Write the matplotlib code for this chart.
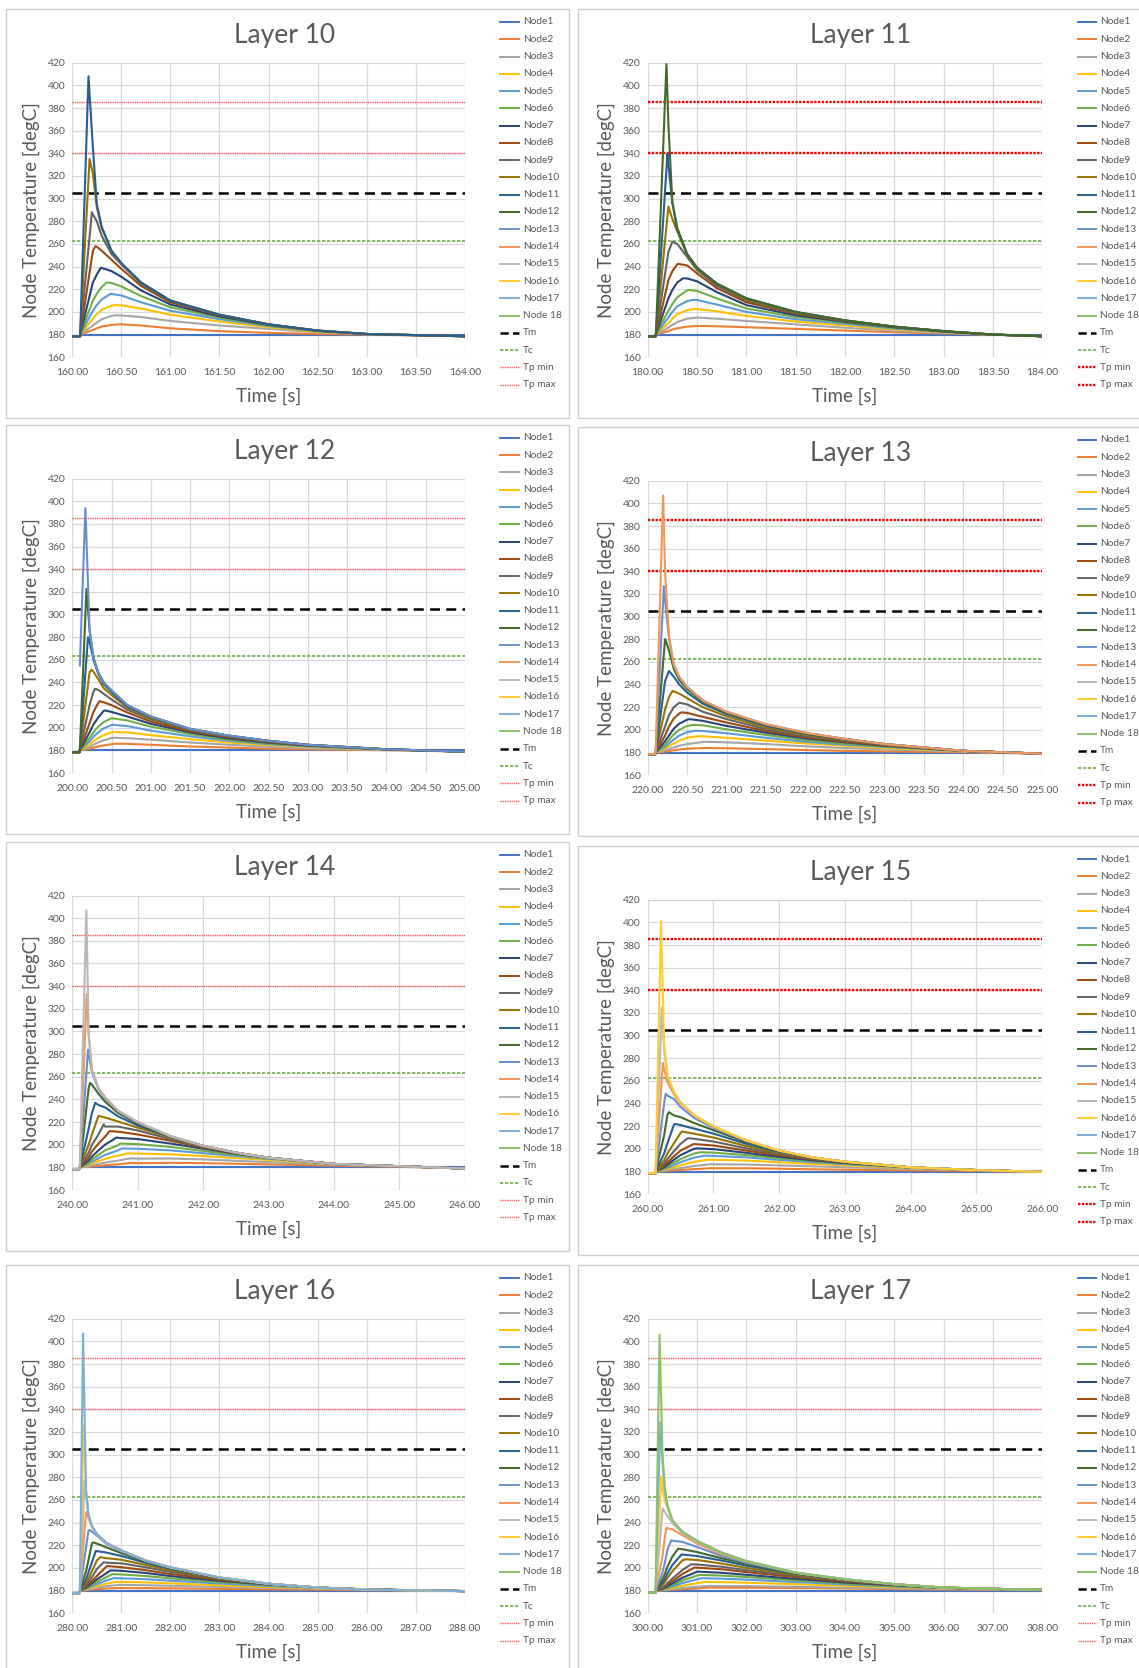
import matplotlib
matplotlib.use("Agg")
import matplotlib.pyplot as plt
from matplotlib.lines import Line2D
from matplotlib.patches import Rectangle
import numpy as np

plt.rcParams['font.family'] = ['Lato', 'DejaVu Sans']

W, H = 1139, 1668

# ---- data ------------------------------------------------------------------
layers = [10, 11, 12, 13, 14, 15, 16, 17]
t_start = [160, 180, 200, 220, 240, 260, 280, 300]
t_span = [4, 4, 5, 5, 6, 6, 8, 8]
x_step = [0.5, 0.5, 0.5, 0.5, 1, 1, 1, 1]
rise_offset = [0.08, 0.083, 0.096, 0.10, 0.115, 0.12, 0.154, 0.16]
preheat_temp = [178.5, 178.5, 178.5, 178.6, 178.5, 178.5, 177.8, 178.0]
top_node_start = [None, None, 255.0, None, None, None, None, None]

T_m, T_c, Tp_min, Tp_max = 305, 263, 340, 385

node_labels = ['Node%d' % i for i in range(1, 18)] + ['Node 18']
node_colors = ['#4472C4', '#ED7D31', '#A5A5A5', '#FFC000', '#5B9BD5', '#70AD47',
               '#264478', '#9E480E', '#636363', '#997300', '#255E91', '#43682B',
               '#698ED0', '#F1975A', '#B7B7B7', '#FFCD33', '#7CAFDD', '#8CC168']

# peak (offset from layer start [s], temperature [degC]) per node
l10_peak_t = [0.5, 0.48, 0.44, 0.44, 0.39, 0.35, 0.29, 0.235, 0.20, 0.176, 0.165]
l10_peak_T = [180, 189, 197, 206, 216, 226, 239, 258, 288, 335, 408]
l11_peak_t = [0.5, 0.53, 0.51, 0.48, 0.45, 0.42, 0.36, 0.31, 0.25, 0.21, 0.20, 0.19]
l11_peak_T = [180, 187.6, 195, 202.6, 210.6, 219.4, 229.7, 242.4, 262, 293, 339.7, 418.8]
l12_peak_t = [0.5, 0.55, 0.52, 0.54, 0.52, 0.50, 0.42, 0.35, 0.29, 0.24, 0.20, 0.18, 0.167]
l12_peak_T = [180, 186, 191.2, 196.2, 202.6, 208.5, 215.3, 223.5, 234.4, 251.2, 280, 322.6, 394]
l13_peak_t = [0.5, 0.72, 0.72, 0.65, 0.6, 0.58, 0.53, 0.43, 0.40, 0.315, 0.27, 0.224, 0.205, 0.196]
l13_peak_T = [180, 184, 189.5, 194.5, 199.2, 204.5, 209.5, 215.5, 224, 234.5, 252, 280, 327, 407]
l14_peak_t = [0.5, 0.9, 0.9, 0.84, 0.76, 0.73, 0.68, 0.57, 0.48, 0.40, 0.35, 0.27, 0.24, 0.22, 0.214]
l14_peak_T = [180, 184, 188, 192.3, 196.7, 201, 206.4, 212, 218, 225.5, 237, 254.5, 284, 333, 407]
l15_peak_t = [0.5, 0.97, 0.97, 0.92, 0.86, 0.8, 0.75, 0.7, 0.61, 0.52, 0.42, 0.323, 0.274, 0.23,
              0.214, 0.203]
l15_peak_T = [180, 183, 186.5, 190.5, 194, 197, 200.5, 204.3, 209.4, 215.3, 222, 232.4, 248.7, 276,
              324.6, 401.4]
l16_peak_t = [0.5, 0.95, 0.95, 0.9, 0.85, 0.82, 0.78, 0.72, 0.64, 0.57, 0.48, 0.42, 0.35, 0.29,
              0.25, 0.23, 0.22]
l16_peak_T = [180, 182.2, 185, 187.7, 191, 194.5, 197.8, 201.6, 205, 209.5, 215, 222.5, 233.5,
              249.5, 277.5, 326, 407]
l17_peak_t = [0.5, 1.24, 1.24, 1.17, 1.1, 1.06, 1.02, 0.95, 0.88, 0.77, 0.69, 0.62, 0.475, 0.38,
              0.307, 0.278, 0.256, 0.241]
l17_peak_T = [180, 182.6, 184.1, 187.6, 190.9, 193.8, 196.7, 200.3, 203.2, 207.6, 212, 217, 224.3,
              235.5, 252.3, 280.5, 328.6, 406]

# sampled temperatures on a time grid (offset from layer start [s]), one row per node
l10_grid = [0.21, 0.25, 0.3, 0.4, 0.5, 0.7, 1.0, 1.5, 2.0, 2.5, 3.0, 3.5, 4.0]
l10_temp = [
    [180, 180, 180, 180, 180, 180, 180, 180, 180, 180, 180, 180, 180],
    [184, 185.5, 187, 188.5, 189, 188, 185.5, 183, 181.5, 180.5, 180, 179.2, 178.5],
    [188, 190.5, 193.5, 196.5, 196.8, 195.5, 192, 188, 185, 182, 180.3, 179.3, 178.5],
    [194, 198, 202, 205.5, 205.8, 203, 197.5, 191.5, 186.5, 182.5, 180.4, 179.3, 178.5],
    [201, 206, 211, 215.8, 214.5, 208.5, 201, 193.5, 187.5, 183, 180.5, 179.4, 178.5],
    [210, 216, 222, 225.5, 222.5, 214, 204, 195, 188, 183.2, 180.5, 179.4, 178.5],
    [226, 233, 238.8, 236, 231, 219, 206.5, 196, 188.5, 183.3, 180.5, 179.5, 178.5],
    [254, 257.5, 254, 246, 238, 223, 208.5, 197, 189, 183.5, 180.5, 179.5, 178.5],
    [286, 280, 267, 251, 242, 225, 209.5, 197.5, 189, 183.5, 180.5, 179.5, 178.5],
    [322, 292, 274, 253.5, 243, 226, 210, 197.5, 189, 183.5, 180.5, 179.5, 178.5],
    [345, 295, 275, 254, 243, 226, 210, 197.5, 189, 183.5, 180.5, 179.5, 178.5],
]
l11_grid = [0.21, 0.25, 0.3, 0.4, 0.5, 0.7, 1.0, 1.5, 2.0, 2.5, 3.0, 3.5, 4.0]
l11_temp = [
    [180, 180, 180, 180, 180, 180, 180, 180, 180, 180, 180, 180, 180],
    [183, 184.5, 185.5, 187, 187.5, 187.3, 186.5, 185, 183.5, 182, 181, 179.8, 178.5],
    [186, 188.5, 191, 194, 195, 194, 192, 189, 186, 183.5, 181.5, 179.9, 178.5],
    [190, 194, 198, 201.5, 202.5, 200.5, 196.5, 191.5, 188, 184.5, 182, 180, 178.5],
    [195, 200, 205, 209.5, 210.5, 206.5, 200, 193.5, 189.5, 185.3, 182.3, 180, 178.5],
    [201, 207, 213, 219, 218.5, 212, 203, 195.5, 190.5, 186, 182.5, 180, 178.5],
    [212, 219.5, 226, 229.5, 227, 217.5, 206, 197, 191.3, 186.4, 182.7, 180, 178.5],
    [228, 236, 242, 241, 234, 221, 208.5, 198.3, 191.8, 186.7, 182.8, 180, 178.5],
    [253, 262, 260, 248.5, 237, 223, 210, 199, 192.2, 186.9, 183, 180, 178.5],
    [293, 282, 271, 250.5, 238.5, 224.5, 211, 199.5, 192.5, 187, 183, 180, 178.5],
    [330, 296, 273, 251, 239, 225, 212, 200, 192.5, 187, 183, 180, 178.5],
    [365, 297, 274, 251, 239, 225, 212, 200, 192.5, 187, 183, 180, 178.5],
]
l12_grid = [0.22, 0.27, 0.33, 0.4, 0.5, 0.7, 1.0, 1.5, 2.0, 2.5, 3.0, 4.0, 5.0]
l12_temp = [
    [180, 180, 180, 180, 180, 180, 180, 180, 180, 180, 180, 180, 180],
    [181.5, 182.5, 183.5, 184.5, 185.5, 185.8, 185, 183.5, 182.5, 181.5, 181, 180.2, 179],
    [183, 185, 187, 189, 191, 190.8, 189.5, 187, 185, 183.3, 182, 180.5, 179],
    [185, 188, 191, 193.5, 196, 196, 193.5, 190, 187, 184.8, 183, 180.7, 179],
    [188, 192, 196, 199.5, 202.5, 201.5, 197.5, 192.5, 188.5, 185.5, 183.5, 180.8, 179],
    [191, 196, 201, 205, 208.5, 206.5, 201, 194.5, 189.5, 186, 184, 180.9, 179],
    [196, 203, 209, 215, 214, 210, 203.5, 196, 190.5, 186.8, 184.3, 181, 179],
    [204, 214, 222, 222.5, 220, 213.5, 205.5, 197, 191.5, 187.3, 184.5, 181, 179],
    [220, 232, 233.5, 230, 225, 216, 207.5, 198, 192, 187.8, 184.8, 181, 179],
    [249, 249.5, 243, 235, 229, 218, 208.5, 198.5, 192.5, 188.2, 185, 181, 179],
    [276, 260, 248, 238.5, 231.5, 219, 209.5, 199, 193, 188.5, 185, 181, 179],
    [286, 262, 249, 240, 233, 220, 210, 199, 193, 188.5, 185, 181, 179],
    [286, 262, 249, 240, 233, 220, 210, 199, 193, 188.5, 185, 181, 179],
]
l13_grid = [0.22, 0.27, 0.33, 0.4, 0.5, 0.7, 1.0, 1.5, 2.0, 2.5, 3.0, 4.0, 5.0]
l13_temp = [
    [180, 180, 180, 180, 180, 180, 180, 180, 180, 180, 180, 180, 180],
    [180.8, 181.3, 182, 182.7, 183.3, 184, 183.8, 183, 182.2, 181.5, 181, 180.3, 179],
    [182, 183, 184.5, 186, 187.5, 189.3, 189, 187.5, 185.5, 184, 182.8, 180.8, 179],
    [183.5, 185.5, 188, 190.5, 193, 194.3, 193, 190.5, 188, 186, 184, 181.2, 179],
    [185, 188, 191.5, 195, 198, 199, 197, 193, 189.5, 187, 185, 181.4, 179],
    [187, 191, 196, 200, 203.5, 204, 200.5, 195.5, 191, 188, 185.5, 181.5, 179],
    [190, 195, 201, 205.5, 209, 208, 203.5, 197.5, 192.5, 189, 186, 181.5, 179],
    [195, 203, 210, 214.5, 215, 211.5, 206.5, 199, 193.5, 189.5, 186.5, 181.5, 179],
    [203, 213, 220, 224, 222.5, 216, 209.5, 200.5, 194.5, 190.5, 187, 181.5, 179],
    [218, 229, 234, 232, 228, 220, 212, 202, 195.5, 191, 187.3, 181.5, 179],
    [243, 252, 247, 240, 233, 223, 214, 203.5, 196.5, 191.5, 187.5, 181.5, 179],
    [280, 270, 254, 244, 236, 225, 215, 204.5, 197, 192, 187.5, 181.5, 179],
    [315, 281, 257, 246, 237.5, 226, 216, 205, 197.5, 192, 187.5, 181.5, 179],
    [340, 283, 258, 247, 238, 226, 216, 205, 197.5, 192, 187.5, 181.5, 179],
]
l14_grid = [0.25, 0.3, 0.4, 0.5, 0.7, 1.0, 1.5, 2.0, 2.5, 3.0, 4.0, 5.0, 6.0]
l14_temp = [
    [180, 180, 180, 180, 180, 180, 180, 180, 180, 180, 180, 180, 180],
    [180.5, 180.8, 181.3, 181.8, 182.7, 183.6, 184, 183.7, 183.2, 182.6, 181.5, 180.5, 179],
    [181, 181.8, 183, 184.2, 186, 187.7, 187.8, 187, 185.8, 184.6, 182.3, 180.8, 179],
    [182, 183.5, 185.5, 187.5, 190.3, 192.2, 191.5, 190, 188.2, 186.5, 182.8, 181, 179],
    [183, 185, 188, 191, 195, 196.4, 195, 192.5, 190, 187.5, 183, 181, 179],
    [184, 187, 191, 195, 199.5, 200.5, 198, 194.5, 191, 188, 183, 181, 179],
    [186, 189.5, 195, 200, 206, 205, 201, 196.5, 192, 188.5, 183, 181, 179],
    [189, 194, 201, 207, 211.5, 209, 203.5, 197.5, 192.5, 188.5, 183, 181, 179],
    [193, 200, 209, 216, 216, 212.5, 205, 198, 192.8, 188.5, 183, 181, 179],
    [200, 209, 225.5, 224, 220.5, 215, 206.5, 198.5, 193, 188.5, 183, 181, 179],
    [214, 228, 235, 233, 225, 217, 207, 199, 193, 188.5, 183, 181, 179],
    [250, 253, 245, 238, 228, 218.5, 207.5, 199, 193, 188.5, 183, 181, 179],
    [280, 264, 249, 241, 229.5, 219.5, 207.5, 199, 193, 188.5, 183, 181, 179],
    [297, 266, 250, 242, 230, 220, 207.5, 199, 193, 188.5, 183, 181, 179],
    [298, 266, 250, 242, 230, 220, 207.5, 199, 193, 188.5, 183, 181, 179],
]
l15_grid = [0.25, 0.3, 0.4, 0.5, 0.7, 1.0, 1.5, 2.0, 2.5, 3.0, 4.0, 5.0, 6.0]
l15_temp = [
    [180, 180, 180, 180, 180, 180, 180, 180, 180, 180, 180, 180, 180],
    [180.4, 180.6, 181, 181.4, 182.1, 182.9, 182.9, 182.5, 182, 181.6, 181, 180.5, 179.7],
    [180.8, 181.3, 182.2, 183.1, 184.8, 186.4, 186.2, 185.4, 184.6, 183.8, 182.3, 181, 179.7],
    [181.3, 182.2, 183.8, 185.5, 188.5, 190.4, 189.7, 188.2, 186.8, 185.5, 183, 181.2, 179.7],
    [182, 183.3, 185.8, 188.3, 192.2, 193.8, 192.5, 190.3, 188.3, 186.5, 183.3, 181.3, 179.7],
    [182.8, 184.5, 188, 191, 195.8, 196.7, 194.5, 191.8, 189.3, 187.2, 183.5, 181.3, 179.7],
    [183.7, 186, 190.5, 194.5, 200, 199.8, 196.5, 193, 190, 187.6, 183.6, 181.3, 179.7],
    [185, 188, 193.5, 198.5, 204.3, 203, 198.5, 194.3, 190.7, 188, 183.7, 181.3, 179.7],
    [187, 191, 198, 204.5, 209, 206.5, 200.5, 195.5, 191.3, 188.3, 183.7, 181.3, 179.7],
    [190, 196, 205, 214, 213.5, 210, 202.5, 196.5, 191.8, 188.5, 183.7, 181.3, 179.7],
    [196, 205, 221.5, 221, 218, 213.5, 204.5, 197.3, 192.2, 188.6, 183.7, 181.3, 179.7],
    [212, 230, 229.5, 228, 223, 216.5, 206, 198, 192.5, 188.7, 183.7, 181.3, 179.7],
    [240, 247, 244, 237, 227.5, 218.5, 207, 198.5, 192.5, 188.7, 183.7, 181.3, 179.7],
    [270, 259, 248, 240, 229.5, 219.5, 207.5, 198.5, 192.5, 188.7, 183.7, 181.3, 179.7],
    [288, 264, 250, 241, 230, 220, 207.5, 198.5, 192.5, 188.7, 183.7, 181.3, 179.7],
    [292, 265, 250, 241, 230, 220, 207.5, 198.5, 192.5, 188.7, 183.7, 181.3, 179.7],
]
l16_grid = [0.28, 0.33, 0.4, 0.5, 0.7, 1.0, 1.5, 2.0, 3.0, 4.0, 5.0, 6.0, 8.0]
l16_temp = [
    [180, 180, 180, 180, 180, 180, 180, 180, 180, 180, 180, 180, 180],
    [180.3, 180.5, 180.8, 181.2, 181.8, 182.2, 182.1, 181.9, 181.5, 181.1, 180.7, 180.3, 179.5],
    [180.6, 181, 181.6, 182.4, 183.9, 185, 184.7, 184.2, 183.2, 182.3, 181.5, 180.8, 179.5],
    [181, 181.6, 182.5, 183.8, 186.2, 187.6, 187.2, 186.4, 184.7, 183.2, 182, 181, 179.5],
    [181.5, 182.3, 183.6, 185.5, 189, 190.8, 190, 188.7, 186.2, 184, 182.3, 181, 179.5],
    [182, 183.1, 184.8, 187.4, 192, 194.2, 192.8, 190.8, 187.5, 184.8, 182.6, 181, 179.5],
    [182.7, 184.2, 186.5, 189.8, 195.5, 197.4, 195.5, 192.8, 188.6, 185.3, 182.7, 181, 179.5],
    [183.5, 185.5, 188.5, 192.8, 201.4, 200.6, 198, 194.6, 189.5, 185.6, 182.7, 180.9, 179.5],
    [184.8, 187.5, 191.8, 199, 204.6, 204, 200.5, 196.5, 190.3, 185.8, 182.7, 180.9, 179.5],
    [186.7, 190.5, 197, 206.5, 208.5, 207.2, 202.6, 198, 190.8, 186, 182.7, 180.9, 179.5],
    [190, 196, 205, 214.8, 213.5, 210.5, 204.5, 199.2, 191.2, 186, 182.6, 180.8, 179.5],
    [197, 207, 221.5, 221.5, 218, 213, 205.5, 200, 191.4, 186, 182.6, 180.8, 179.5],
    [218, 233, 232, 228.5, 221, 214.5, 206.2, 200.4, 191.5, 186, 182.6, 180.8, 179.5],
    [249, 244, 236, 229.5, 221.7, 215.2, 206.5, 200.5, 191.5, 186, 182.6, 180.8, 179.5],
    [266, 247, 237, 230, 222, 215.5, 206.5, 200.5, 191.5, 186, 182.6, 180.8, 179.5],
    [268, 247, 237, 230, 222, 215.5, 206.5, 200.5, 191.5, 186, 182.6, 180.8, 179.5],
    [268, 247, 237, 230, 222, 215.5, 206.5, 200.5, 191.5, 186, 182.6, 180.8, 179.5],
]
l17_grid = [0.3, 0.35, 0.4, 0.5, 0.7, 1.0, 1.5, 2.0, 3.0, 4.0, 5.0, 6.0, 8.0]
l17_temp = [
    [180, 180, 180, 180, 180, 180, 180, 180, 180, 180, 180, 180, 180],
    [180.2, 180.3, 180.4, 180.7, 181.2, 181.8, 182.5, 182.5, 182.2, 181.8, 181.3, 180.9, 180.3],
    [180.3, 180.5, 180.8, 181.2, 182.2, 183.3, 184, 183.9, 183.3, 182.6, 181.9, 181.3, 180.4],
    [180.5, 180.9, 181.4, 182.3, 184.2, 186.5, 187.4, 186.9, 185.6, 184.2, 182.9, 181.8, 180.5],
    [180.8, 181.4, 182.1, 183.5, 186.5, 189.9, 190.5, 189.6, 187.5, 185.4, 183.6, 182.1, 180.5],
    [181.1, 181.9, 182.9, 184.8, 188.8, 193.2, 193.2, 191.9, 189, 186.3, 184.1, 182.3, 180.5],
    [181.5, 182.5, 183.8, 186.3, 191.2, 196.6, 195.7, 193.9, 190.3, 187.1, 184.6, 182.4, 180.5],
    [182, 183.3, 185, 188.2, 194.5, 200.2, 198.8, 196.3, 191.8, 188, 185, 182.5, 180.5],
    [182.7, 184.3, 186.5, 190.5, 198, 203, 201, 198, 193, 188.6, 185.3, 182.5, 180.5],
    [185, 187.5, 191, 197, 206.5, 207, 203.8, 200, 194, 189.2, 185.5, 182.6, 180.5],
    [187, 190.5, 195, 202.5, 211.8, 210.5, 206.5, 202, 194.8, 189.6, 185.6, 182.6, 180.5],
    [190, 195, 201, 210, 216.5, 214, 208.5, 203.5, 195.2, 189.8, 185.6, 182.6, 180.5],
    [196, 205, 216, 224, 223, 218.5, 210.5, 204.5, 195.5, 190, 185.6, 182.6, 180.5],
    [210, 228, 235, 234, 229, 221.5, 212, 205.5, 195.7, 190, 185.6, 182.6, 180.5],
    [251, 249, 246, 239.5, 231, 223, 213, 206, 195.8, 190, 185.6, 182.6, 180.5],
    [270, 259, 253, 241.5, 232, 223.8, 213.5, 206, 195.8, 190, 185.6, 182.6, 180.5],
    [293, 267, 255, 242, 232, 223.8, 213.5, 206, 195.8, 190, 185.6, 182.6, 180.5],
    [300, 270, 255, 242, 232, 223.8, 213.5, 206, 195.8, 190, 185.6, 182.6, 180.5],
]

peak_t = [l10_peak_t, l11_peak_t, l12_peak_t, l13_peak_t, l14_peak_t, l15_peak_t, l16_peak_t, l17_peak_t]
peak_T = [l10_peak_T, l11_peak_T, l12_peak_T, l13_peak_T, l14_peak_T, l15_peak_T, l16_peak_T, l17_peak_T]
grids = [l10_grid, l11_grid, l12_grid, l13_grid, l14_grid, l15_grid, l16_grid, l17_grid]
temps = [l10_temp, l11_temp, l12_temp, l13_temp, l14_temp, l15_temp, l16_temp, l17_temp]

# ---- layout (pixels of the 1139x1668 picture) ------------------------------
col_left = [72.3, 647.7]
col_right = [464.8, 1042.2]
ax_top = [62.7, 62.7, 478.6, 480.7, 895.5, 899.7, 1318.7, 1318.7]
ax_h = 294.5
# the red Tp lines are drawn bolder in some of the charts
tp_width = [1.0, 1.7, 1.0, 1.7, 1.0, 1.7, 1.0, 1.0]
tp_color = ['#FF5B5B', '#FF0000', '#FF5B5B', '#FF0000', '#FF5B5B', '#FF0000', '#FF5B5B', '#FF5B5B']
TXT = '#595959'
GRID = '#d9d9d9'

fig = plt.figure(figsize=(W / 100, H / 100), dpi=100)


def fx(px):
    return px / W


def fy(py):
    return 1 - py / H


ref_styles = [
    ('Tm', T_m, dict(color='black', ls=(0, (4, 2.5)), lw=1.8)),
    ('Tc', T_c, dict(color='#70AD47', ls=(0, (2, 1)), lw=1.2)),
    ('Tp min', Tp_min, dict(color='#FF0000', ls=(0, (1, 0.6)), lw=1.0)),
    ('Tp max', Tp_max, dict(color='#FF0000', ls=(0, (1, 0.6)), lw=1.0)),
]


def ref_style(i, name, st):
    st = dict(st)
    if name.startswith('Tp'):
        st['lw'] = tp_width[i]
        st['color'] = tp_color[i]
    return st


for i, layer in enumerate(layers):
    col = i % 2
    x0, x1 = col_left[col], col_right[col]
    top = ax_top[i]
    bottom = top + ax_h

    # chart frame, kept behind the axes
    frame_left = 6.4 if col == 0 else 577.5
    frame_right = 569 if col == 0 else 1150
    fig.patches.append(Rectangle((fx(frame_left), fy(top - 54 + 409)),
                                 fx(frame_right - frame_left), 409 / H,
                                 transform=fig.transFigure, facecolor='white',
                                 edgecolor='#d0d0d0', lw=1.0, zorder=-5))

    ax = fig.add_axes([fx(x0), fy(bottom), fx(x1 - x0), ax_h / H])
    ax.set_facecolor('none')
    ax.set_zorder(2)
    t0 = t_start[i]
    rise = rise_offset[i]
    n_nodes = len(temps[i])
    for n in range(n_nodes):
        if n == n_nodes - 1 and top_node_start[i] is not None:
            ts = [rise]
            vs = [top_node_start[i]]
        else:
            ts = [0.0, rise, rise]
            vs = [preheat_temp[i], preheat_temp[i], 180.0]
        ts = ts + [peak_t[i][n]] + list(grids[i])
        vs = vs + [peak_T[i][n]] + list(temps[i][n])
        ts = np.array(ts)
        vs = np.array(vs)
        order = np.argsort(ts, kind='stable')
        ax.plot(t0 + ts[order], vs[order], color=node_colors[n], lw=1.5,
                solid_joinstyle='round', zorder=3)

    for name, val, st in ref_styles:
        ax.axhline(val, zorder=2, **ref_style(i, name, st))

    ax.set_xlim(t0, t0 + t_span[i])
    ax.set_ylim(160, 420)
    ax.set_yticks(np.arange(160, 421, 20))
    ax.set_xticks(np.arange(t0, t0 + t_span[i] + 0.01, x_step[i]))
    ax.xaxis.set_major_formatter(plt.FormatStrFormatter('%.2f'))
    ax.grid(True, color=GRID, lw=0.9)
    ax.set_axisbelow(True)
    for s in ax.spines.values():
        s.set_visible(False)
    ax.tick_params(length=0, labelsize=7.5, labelcolor=TXT)
    ax.tick_params(axis='x', pad=8)
    ax.tick_params(axis='y', pad=5)

    cx = (x0 + x1) / 2 + 16
    fig.text(fx(cx), fy(top - 27.5), 'Layer %d' % layer, ha='center', va='center',
             fontsize=19, color=TXT)
    fig.text(fx(cx - 16), fy(bottom + 39), 'Time [s]', ha='center', va='center',
             fontsize=13.5, color=TXT)
    fig.text(fx(x0 - 41), fy((top + bottom) / 2), 'Node Temperature [degC]',
             ha='center', va='center', rotation=90, fontsize=13.5, color=TXT)

    # legend column
    hx0 = x1 + 35.5
    hx1 = hx0 + 18.5
    ly = top - 40.7
    entries = [(node_labels[k], dict(color=node_colors[k], lw=1.4)) for k in range(18)]
    for name, val, st in ref_styles:
        st = ref_style(i, name, st)
        if name == 'Tm':
            st['ls'] = (0, (3.3, 1.7))
        entries.append((name, st))
    for k, (lab, st) in enumerate(entries):
        yy = ly + k * 17.27
        fig.add_artist(Line2D([fx(hx0), fx(hx1)], [fy(yy), fy(yy)],
                              transform=fig.transFigure, **st))
        fig.text(fx(hx1 + 4), fy(yy), lab, ha='left', va='center',
                 fontsize=7.3, color=TXT)

fig.savefig('out.png', dpi=100)
